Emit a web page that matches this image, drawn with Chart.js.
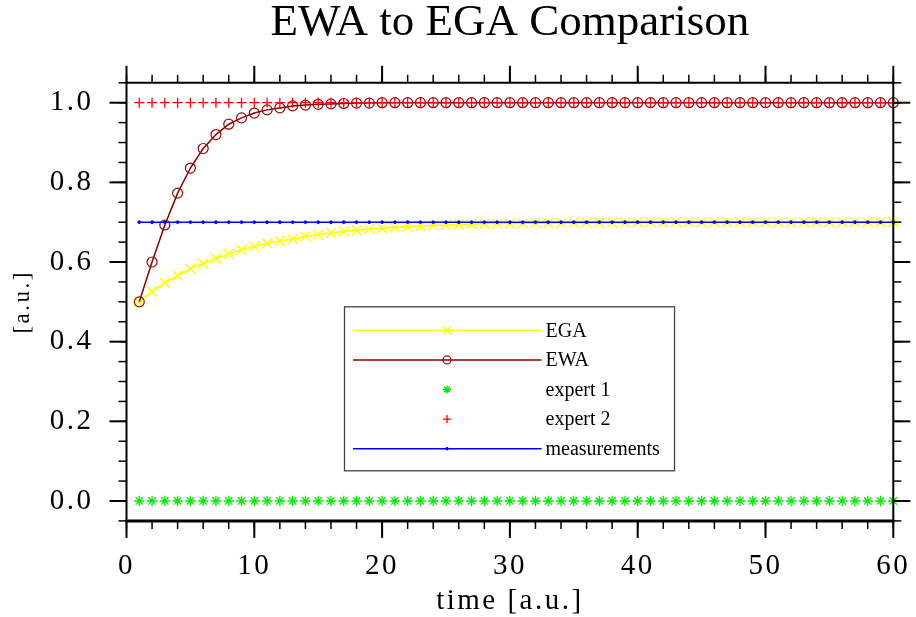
<!DOCTYPE html>
<html>
<head>
<meta charset="utf-8">
<script src="https://cdn.jsdelivr.net/npm/chart.js@4.4.1/dist/chart.umd.min.js"></script>
<style>
html,body{margin:0;padding:0;background:#fff;}
#wrap{width:916px;height:617px;position:relative;}
</style>
</head>
<body>
<div id="wrap"><canvas id="c"></canvas></div>
<script>
// ---------------- DATA ----------------
const times = [1,2,3,4,5,6,7,8,9,10,11,12,13,14,15,16,17,18,19,20,
  21,22,23,24,25,26,27,28,29,30,31,32,33,34,35,36,37,38,39,40,
  41,42,43,44,45,46,47,48,49,50,51,52,53,54,55,56,57,58,59,60];

const egaValues = [0.500,0.526,0.548,0.566,0.583,0.596,0.609,0.621,0.631,0.639,
  0.647,0.653,0.658,0.664,0.669,0.673,0.677,0.680,0.683,0.685,
  0.687,0.689,0.690,0.692,0.693,0.694,0.695,0.696,0.696,0.697,
  0.697,0.698,0.698,0.698,0.699,0.699,0.699,0.699,0.699,0.700,
  0.700,0.700,0.700,0.700,0.700,0.700,0.700,0.700,0.700,0.700,
  0.700,0.700,0.700,0.700,0.700,0.700,0.700,0.700,0.700,0.700];

const ewaValues = [0.500,0.600,0.693,0.773,0.836,0.885,0.920,0.946,0.962,0.974,
  0.982,0.987,0.992,0.994,0.996,0.997,0.998,0.999,0.999,1.000,
  1.000,1.000,1.000,1.000,1.000,1.000,1.000,1.000,1.000,1.000,
  1.000,1.000,1.000,1.000,1.000,1.000,1.000,1.000,1.000,1.000,
  1.000,1.000,1.000,1.000,1.000,1.000,1.000,1.000,1.000,1.000,
  1.000,1.000,1.000,1.000,1.000,1.000,1.000,1.000,1.000,1.000];

const expert1Values = [0,0,0,0,0,0,0,0,0,0, 0,0,0,0,0,0,0,0,0,0,
  0,0,0,0,0,0,0,0,0,0, 0,0,0,0,0,0,0,0,0,0,
  0,0,0,0,0,0,0,0,0,0, 0,0,0,0,0,0,0,0,0,0];

const expert2Values = [1,1,1,1,1,1,1,1,1,1, 1,1,1,1,1,1,1,1,1,1,
  1,1,1,1,1,1,1,1,1,1, 1,1,1,1,1,1,1,1,1,1,
  1,1,1,1,1,1,1,1,1,1, 1,1,1,1,1,1,1,1,1,1];

const measurementValues = [0.7,0.7,0.7,0.7,0.7,0.7,0.7,0.7,0.7,0.7,
  0.7,0.7,0.7,0.7,0.7,0.7,0.7,0.7,0.7,0.7,
  0.7,0.7,0.7,0.7,0.7,0.7,0.7,0.7,0.7,0.7,
  0.7,0.7,0.7,0.7,0.7,0.7,0.7,0.7,0.7,0.7,
  0.7,0.7,0.7,0.7,0.7,0.7,0.7,0.7,0.7,0.7,
  0.7,0.7,0.7,0.7,0.7,0.7,0.7,0.7,0.7,0.7];

const seriesNames = ['EGA', 'EWA', 'expert 1', 'expert 2', 'measurements'];

const xTickValues = [0, 10, 20, 30, 40, 50, 60];
const xTickLabels = ['0', '10', '20', '30', '40', '50', '60'];
const yTickValues = [0, 0.2, 0.4, 0.6, 0.8, 1.0];
const yTickLabels = ['0.0', '0.2', '0.4', '0.6', '0.8', '1.0'];
const xMinorTicks = [0,2,4,6,8,10,12,14,16,18,20,22,24,26,28,30,32,34,36,38,40,42,44,46,48,50,52,54,56,58,60];
const yMinorTicks = [-0.05,0,0.05,0.1,0.15,0.2,0.25,0.3,0.35,0.4,0.45,0.5,0.55,0.6,0.65,0.7,0.75,0.8,0.85,0.9,0.95,1.0,1.05];

const xTitle = 'time [a.u.]';
const yTitle = '[a.u.]';
const chartTitle = 'EWA to EGA Comparison';

// ---------------- CHART ----------------
const SERIF = "'Liberation Serif', 'Times New Roman', serif";
const pts = (vals) => times.map((t, i) => ({ x: t, y: vals[i] }));

const axisSpacingPlugin = {
  id: 'axisSpacing',
  afterUpdate(chart) {
    ['x', 'y'].forEach(id => {
      const s = chart.scales[id];
      if (!s || s._lsPatched) return;
      s._lsPatched = true;
      ['drawLabels', 'drawTitle'].forEach(fn => {
        const orig = s[fn];
        s[fn] = function(...args) {
          const c = this.ctx;
          const prev = c.letterSpacing;
          c.letterSpacing = '2.5px';
          orig.apply(this, args);
          c.letterSpacing = prev || '0px';
        };
      });
    });
  }
};

const framePlugin = {
  id: 'frame',
  afterDatasetsDraw(chart) {
    const ctx = chart.ctx;
    const { left, right, top, bottom } = chart.chartArea;
    const xs = chart.scales.x, ys = chart.scales.y;
    ctx.save();
    ctx.strokeStyle = '#000';
    ctx.lineCap = 'butt';
    const seg = (x1, y1, x2, y2) => { ctx.beginPath(); ctx.moveTo(x1, y1); ctx.lineTo(x2, y2); ctx.stroke(); };
    // minor ticks
    ctx.lineWidth = 1.5;
    xMinorTicks.forEach(v => {
      const p = xs.getPixelForValue(v);
      seg(p, bottom, p, bottom + 8);
      seg(p, top, p, top - 8);
    });
    yMinorTicks.forEach(v => {
      const p = ys.getPixelForValue(v);
      seg(left, p, left - 8, p);
      seg(right, p, right + 8, p);
    });
    // major ticks
    ctx.lineWidth = 2;
    xTickValues.forEach(v => {
      const p = xs.getPixelForValue(v);
      seg(p, bottom, p, bottom + 17);
      seg(p, top, p, top - 17);
    });
    yTickValues.forEach(v => {
      const p = ys.getPixelForValue(v);
      seg(left, p, left - 17, p);
      seg(right, p, right + 17, p);
    });
    // frame
    ctx.lineWidth = 2;
    seg(left - 1, top, right + 1, top);
    seg(left, top, left, bottom);
    seg(right, top, right, bottom);
    ctx.lineWidth = 3;
    seg(left - 1, bottom, right + 1, bottom);
    ctx.restore();
  }
};

const legendPlugin = {
  id: 'boxLegend',
  afterDraw(chart) {
    const ctx = chart.ctx;
    const ca = chart.chartArea;
    const bx = ca.left + 218, by = ca.top + 224, bw = 330, bh = 164;
    ctx.save();
    ctx.letterSpacing = '0px';
    ctx.fillStyle = '#fff';
    ctx.fillRect(bx, by, bw, bh);
    ctx.strokeStyle = '#444';
    ctx.lineWidth = 1.3;
    ctx.strokeRect(bx, by, bw, bh);
    const lineX1 = bx + 8.5, lineX2 = bx + 197, mX = bx + 102.5, textX = bx + 201;
    chart.data.datasets.forEach((ds, i) => {
      const y = by + 23.5 + i * 29.6;
      if (ds.showLine !== false) {
        ctx.strokeStyle = ds.borderColor;
        ctx.lineWidth = ds.borderWidth;
        ctx.beginPath(); ctx.moveTo(lineX1, y); ctx.lineTo(lineX2, y); ctx.stroke();
      }
      ctx.strokeStyle = ds.pointBorderColor;
      ctx.fillStyle = ds.pointBackgroundColor;
      ctx.lineWidth = ds.pointBorderWidth;
      Chart.helpers.drawPoint(ctx, {
        pointStyle: ds.pointStyle,
        radius: ds.legendRadius,
        borderWidth: ds.pointBorderWidth,
        rotation: 0
      }, mX, y);
      ctx.fillStyle = '#000';
      ctx.font = '20px ' + SERIF;
      ctx.textBaseline = 'middle';
      ctx.textAlign = 'left';
      ctx.fillText(ds.label, textX, y + 1);
    });
    ctx.restore();
  }
};

new Chart(document.getElementById('c'), {
  type: 'line',
  data: {
    datasets: [
      {
        label: seriesNames[0], data: pts(egaValues), order: 5,
        borderColor: '#FFFF00', borderWidth: 1.6,
        pointStyle: 'crossRot', pointRadius: 7, legendRadius: 6,
        pointBorderColor: '#FFFF00', pointBackgroundColor: 'rgba(0,0,0,0)', pointBorderWidth: 1.5
      },
      {
        label: seriesNames[1], data: pts(ewaValues), order: 4,
        borderColor: '#8B0000', borderWidth: 1.5,
        pointStyle: 'circle', pointRadius: 5, legendRadius: 4,
        pointBorderColor: '#960A0A', pointBackgroundColor: 'rgba(0,0,0,0)', pointBorderWidth: 1.2
      },
      {
        label: seriesNames[2], data: pts(expert1Values), order: 3, showLine: false,
        borderColor: '#00FF00', borderWidth: 1.2,
        pointStyle: 'star', pointRadius: 5.2, legendRadius: 4.2,
        pointBorderColor: '#00EE00', pointBackgroundColor: 'rgba(0,0,0,0)', pointBorderWidth: 1.3
      },
      {
        label: seriesNames[3], data: pts(expert2Values), order: 2, showLine: false,
        borderColor: '#FF0000', borderWidth: 1.2,
        pointStyle: 'cross', pointRadius: 5, legendRadius: 4,
        pointBorderColor: '#FF0000', pointBackgroundColor: 'rgba(0,0,0,0)', pointBorderWidth: 1.3
      },
      {
        label: seriesNames[4], data: pts(measurementValues), order: 1,
        borderColor: '#0000FF', borderWidth: 1.5,
        pointStyle: 'circle', pointRadius: 1.4, legendRadius: 1.3,
        pointBorderColor: '#0000FF', pointBackgroundColor: '#0000FF', pointBorderWidth: 1
      }
    ]
  },
  options: {
    responsive: true,
    maintainAspectRatio: false,
    animation: false,
    devicePixelRatio: 1,
    clip: false,
    elements: { line: { tension: 0 } },
    layout: { padding: { left: 0, right: 22.7, top: 0, bottom: 0 } },
    plugins: {
      legend: { display: false },
      tooltip: { enabled: false },
      title: {
        display: true, text: chartTitle, fullSize: false,
        color: '#000',
        font: { family: SERIF, size: 45, weight: 'normal', lineHeight: 1.02 },
        padding: { top: 0, bottom: 36.9 }
      }
    },
    scales: {
      x: {
        type: 'linear', position: 'bottom', min: 0, max: 60,
        grid: { display: false, drawTicks: false, tickLength: 0 },
        border: { display: false },
        afterBuildTicks: (s) => { s.ticks = xTickValues.map(v => ({ value: v })); },
        afterFit: (s) => { s.height = 96.1; s.paddingLeft = 0; s.paddingRight = 0; },
        ticks: {
          autoSkip: false, maxRotation: 0, minRotation: 0,
          color: '#000', padding: 28.5,
          font: { family: SERIF, size: 29, weight: 'normal', lineHeight: 1.2 },
          callback: (v, i) => xTickLabels[i]
        },
        title: {
          display: true, text: xTitle, color: '#000',
          font: { family: SERIF, size: 29, weight: 'normal', lineHeight: 1 },
          padding: { top: 0, bottom: 1.5 }
        }
      },
      y: {
        type: 'linear', position: 'left', min: -0.05, max: 1.05,
        grid: { display: false, drawTicks: false, tickLength: 0 },
        border: { display: false },
        afterBuildTicks: (s) => { s.ticks = yTickValues.map(v => ({ value: v })); },
        afterFit: (s) => { s.width = 126.5; s.paddingTop = 0; s.paddingBottom = 0; },
        ticks: {
          color: '#000', padding: 33,
          font: { family: SERIF, size: 29, weight: 'normal', lineHeight: 1.2 },
          callback: (v, i) => yTickLabels[i]
        },
        title: {
          display: true, text: yTitle, color: '#000',
          font: { family: SERIF, size: 23, weight: 'normal', lineHeight: 1 },
          padding: { top: 11, bottom: 0 }
        }
      }
    }
  },
  plugins: [axisSpacingPlugin, framePlugin, legendPlugin]
});
</script>
</body>
</html>
